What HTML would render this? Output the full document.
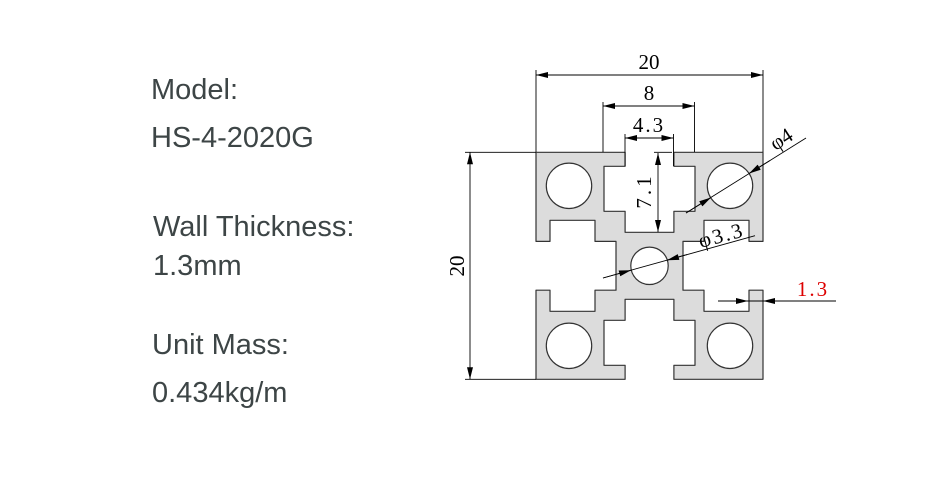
<!DOCTYPE html>
<html><head><meta charset="utf-8"><style>
html,body{margin:0;padding:0;background:#fff;}
svg{display:block;}
</style></head><body>
<svg width="930" height="500" viewBox="0 0 930 500" xmlns="http://www.w3.org/2000/svg">
<defs>
<marker id="a" viewBox="0 0 12 6" refX="12" refY="3" markerWidth="14" markerHeight="6" markerUnits="userSpaceOnUse" orient="auto-start-reverse"><path d="M0,0 L12,3 L0,6 Z" fill="#000"/></marker>
</defs>
<g font-family="Liberation Sans, sans-serif" font-size="29" fill="#3d4546" style="font-weight:500">
<text x="151" y="99">Model:</text>
<text x="151" y="147">HS-4-2020G</text>
<text x="153" y="236">Wall Thickness:</text>
<text x="153" y="275">1.3mm</text>
<text x="152" y="354">Unit Mass:</text>
<text x="152" y="402">0.434kg/m</text>
</g>
<g transform="translate(649.5,265.8)">
<path fill="#dcdcdc" stroke="#333" stroke-width="1.2" stroke-linejoin="round" d="M-113.5,-113.5 L-24.4,-113.5 L-24.4,-99.5 L-45.5,-99.5 L-45.5,-54.5 L-24.4,-54.5 L-24.4,-33.5 L24.4,-33.5 L24.4,-54.5 L45.5,-54.5 L45.5,-99.5 L24.4,-99.5 L24.4,-113.5 L113.5,-113.5 L113.5,-24.4 L99.5,-24.4 L99.5,-45.5 L54.5,-45.5 L54.5,-24.4 L33.5,-24.4 L33.5,24.4 L54.5,24.4 L54.5,45.5 L99.5,45.5 L99.5,24.4 L113.5,24.4 L113.5,113.5 L24.4,113.5 L24.4,99.5 L45.5,99.5 L45.5,54.5 L24.4,54.5 L24.4,33.5 L-24.4,33.5 L-24.4,54.5 L-45.5,54.5 L-45.5,99.5 L-24.4,99.5 L-24.4,113.5 L-113.5,113.5 L-113.5,24.4 L-99.5,24.4 L-99.5,45.5 L-54.5,45.5 L-54.5,24.4 L-33.5,24.4 L-33.5,-24.4 L-54.5,-24.4 L-54.5,-45.5 L-99.5,-45.5 L-99.5,-24.4 L-113.5,-24.4 Z"/>
<g fill="#fff" stroke="#333" stroke-width="1.2">
<circle cx="-80.5" cy="-80" r="22.7"/><circle cx="80.5" cy="-80" r="22.7"/>
<circle cx="-80.5" cy="80" r="22.7"/><circle cx="80.5" cy="80" r="22.7"/>
<circle cx="0" cy="0" r="18.7"/>
</g>
</g>
<g stroke="#000" stroke-width="0.9" fill="none">
<line x1="536" y1="70" x2="536" y2="152"/><line x1="763" y1="70" x2="763" y2="152"/>
<line x1="536" y1="75" x2="763" y2="75" marker-start="url(#a)" marker-end="url(#a)"/>
<line x1="603" y1="102" x2="603" y2="152"/><line x1="694.5" y1="102" x2="694.5" y2="152"/>
<line x1="603" y1="106" x2="694.5" y2="106" marker-start="url(#a)" marker-end="url(#a)"/>
<line x1="625" y1="134" x2="625" y2="166"/><line x1="673.5" y1="134" x2="673.5" y2="166"/>
<line x1="625" y1="138" x2="673.5" y2="138" marker-start="url(#a)" marker-end="url(#a)"/>
<line x1="654" y1="152.3" x2="672" y2="152.3"/>
<line x1="658" y1="153" x2="658" y2="232" marker-start="url(#a)" marker-end="url(#a)"/>
<line x1="465" y1="152.3" x2="536" y2="152.3"/><line x1="465" y1="379.3" x2="536" y2="379.3"/>
<line x1="470" y1="152.3" x2="470" y2="379.3" marker-start="url(#a)" marker-end="url(#a)"/>
<line x1="686" y1="213" x2="806" y2="138"/>
<line x1="686" y1="213" x2="711" y2="197.5" marker-end="url(#a)"/>
<line x1="770" y1="160.5" x2="749" y2="173.5" marker-end="url(#a)"/>
<line x1="603" y1="278" x2="755" y2="235.7"/>
<line x1="603" y1="278" x2="631" y2="270.2" marker-end="url(#a)"/>
<line x1="687" y1="254.6" x2="667" y2="260.2" marker-end="url(#a)"/>
<line x1="718" y1="301" x2="836" y2="301"/>
<line x1="733" y1="301" x2="748" y2="301" marker-end="url(#a)"/>
<line x1="777" y1="301" x2="763" y2="301" marker-end="url(#a)"/>
</g>
<g font-family="Liberation Serif, serif" font-size="21" fill="#000">
<text x="649" y="69" text-anchor="middle">20</text>
<text x="649" y="100" text-anchor="middle">8</text>
<text x="649" y="132" text-anchor="middle" letter-spacing="2">4.3</text>
<text transform="translate(651,191) rotate(-90)" text-anchor="middle" letter-spacing="3">7.1</text>
<text transform="translate(464,266) rotate(-90)" text-anchor="middle">20</text>
<text transform="translate(785,145) rotate(-33)" text-anchor="middle">φ4</text>
<text transform="translate(723,242) rotate(-15)" text-anchor="middle" letter-spacing="2">φ3.3</text>
<text x="813" y="296" text-anchor="middle" fill="#d00" letter-spacing="2">1.3</text>
</g>
</svg>
</body></html>
